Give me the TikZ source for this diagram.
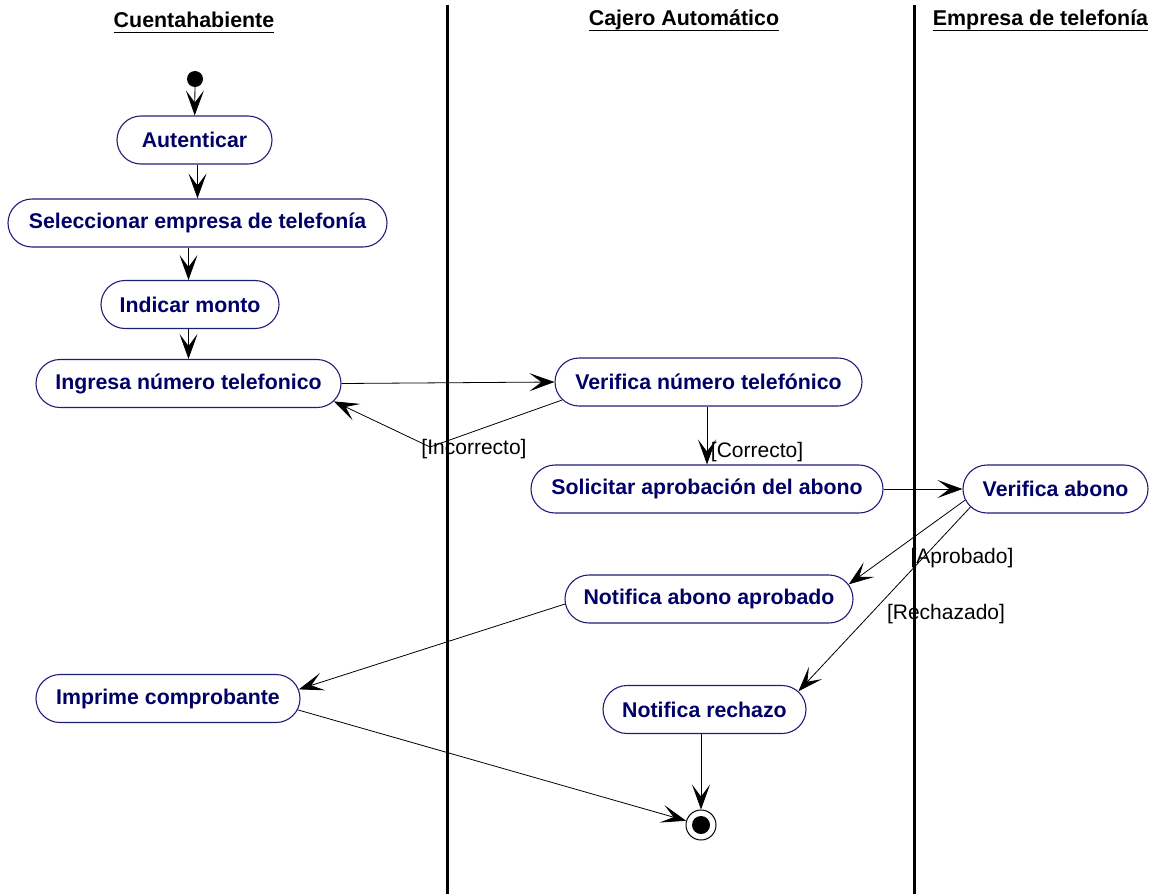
\documentclass[tikz,border=0pt]{standalone}
\usepackage{fontspec}
\setmainfont{Liberation Sans}
\usetikzlibrary{arrows.meta,shapes.misc}
\definecolor{navytxt}{RGB}{0,0,102}
\definecolor{navybrd}{RGB}{30,30,120}
\begin{document}
\begin{tikzpicture}[x=1pt,y=-1pt,
  act/.style={rounded rectangle, draw=navybrd, line width=1.1pt, text=navytxt,
    font=\fontsize{21.3}{25}\selectfont\bfseries, minimum height=48pt, inner xsep=0pt, inner ysep=0pt},
  lane/.style={line width=3pt},
  hdr/.style={font=\fontsize{21.4}{25}\selectfont\bfseries, inner sep=0pt},
  uline/.style={line width=1.7pt},
  guard/.style={font=\fontsize{21}{25}\selectfont, inner sep=0pt},
  arr/.style={-{Stealth[length=25pt,width=18pt,inset=12pt]}, line width=0.8pt}]
\useasboundingbox (0,0) rectangle (1155,894);
% swimlanes
\draw[lane] (447,5) -- (447,894);
\draw[lane] (914,5) -- (914,894);
\node[hdr] (h1) at (194,20) {Cuentahabiente};
\node[hdr] (h2) at (684,20) {Cajero Automático};
\node[hdr] (h3) at (1040.5,20) {Empresa de telefonía};
\draw[uline] ([yshift=-5pt]h1.base west) -- ([yshift=-5pt]h1.base east);
\draw[uline] ([yshift=-5pt]h2.base west) -- ([yshift=-5pt]h2.base east);
\draw[uline] ([yshift=-5pt]h3.base west) -- ([yshift=-5pt]h3.base east);
% nodes
\node[circle, fill=black, minimum size=16pt, inner sep=0pt] (ini) at (195,79) {};
\node[act, minimum width=155pt] (aut) at (194.5,140) {Autenticar};
\node[act, minimum width=379pt] (sel) at (197.5,223) {Seleccionar empresa de telefonía};
\node[act, minimum width=178pt] (ind) at (190,304.5) {Indicar monto};
\node[act, minimum width=305pt] (ing) at (188.5,383.5) {Ingresa número telefonico};
\node[act, minimum width=307pt] (vnum) at (708.5,382) {Verifica número telefónico};
\node[act, minimum width=352pt] (sol) at (707,489) {Solicitar aprobación del abono};
\node[act, minimum width=185pt] (vab) at (1055.5,489) {Verifica abono};
\node[act, minimum width=288pt] (napr) at (709,599) {Notifica abono aprobado};
\node[act, minimum width=264pt] (imp) at (168,698.5) {Imprime comprobante};
\node[act, minimum width=203pt] (nrech) at (704.5,709.5) {Notifica rechazo};
\node[circle, draw=black, line width=1pt, minimum size=30pt, inner sep=0pt] (fin) at (701,825) {};
\fill[black] (fin.center) circle (9pt);
\coordinate (bendI) at (430,447);
% connectors
\draw[arr] (ini) -- (aut);
\draw[arr] (sel.north |- aut.south) -- (sel.north);
\draw[arr] (sel.south -| ing) -- (ind.north -| ing);
\draw[arr] (ind.south -| ing) -- (ing.north);
\draw[arr] (ing.east) -- (vnum.west);
\draw[arr] (vnum.187) -- (bendI) -- (ing.-7);
\draw[arr] (vnum.south -| sol) -- (sol.north);
\draw[arr] (sol.east) -- (vab.west);
\draw[arr] (vab.187) -- (napr.6);
\draw[arr] (vab.192) -- (nrech.11);
\draw[arr] (napr.182) -- (imp.4);
\draw[arr] (imp.-5) -- (fin);
\draw[arr] (fin |- nrech.south) -- (fin);
% guards
\node[guard] (gI) at (474,449) {[Incorrecto]};
\node[guard] (gC) at (757,452) {[Correcto]};
\node[guard] (gA) at (962,558) {[Aprobado]};
\node[guard] (gR) at (946,614) {[Rechazado]};
\end{tikzpicture}
\end{document}
